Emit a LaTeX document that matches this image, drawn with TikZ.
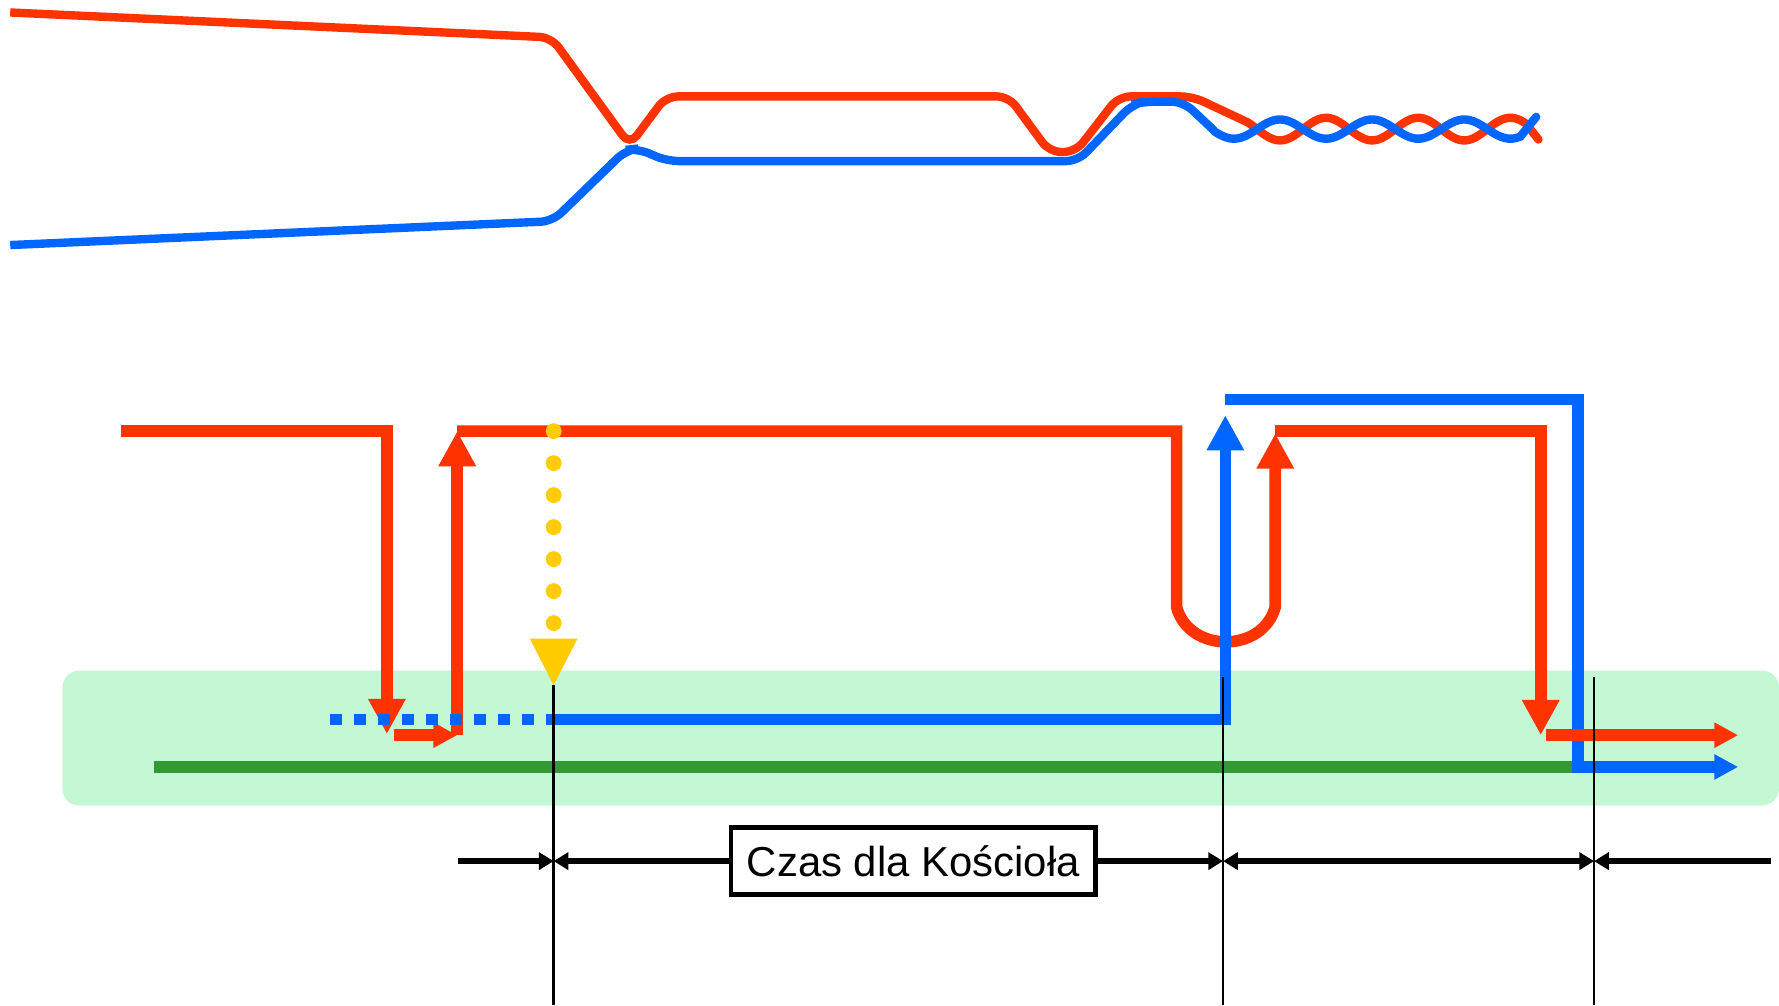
\documentclass[tikz,border=0pt]{standalone}
\usepackage{fontspec}
\setmainfont{Liberation Sans}
\usetikzlibrary{arrows.meta}
\definecolor{pathred}{RGB}{255,51,0}
\definecolor{pathblue}{RGB}{0,102,255}
\definecolor{pathyellow}{RGB}{255,204,0}
\definecolor{pathgreen}{RGB}{51,153,51}
\definecolor{bandgreen}{RGB}{196,247,212}

\begin{document}
\begin{tikzpicture}[x=0.01cm, y=-0.01cm,
        strand/.style={line width=2.1pt, rounded corners=3pt},
        wave/.style={line width=2.1pt, line cap=round},
        route/.style={line width=2.9pt},
        bigtip/.style={-{Triangle[length=0.31cm, width=0.31cm]}},
        smalltip/.style={-{Triangle[length=0.21cm, width=0.21cm]}},
        dimline/.style={line width=1.5pt},
        >={Triangle[length=0.13cm, width=0.15cm]}]
    \useasboundingbox (0,0) rectangle (1568,886);
    \pgfmathsetmacro{\wavek}{180/40.6}
    \fill[bandgreen, rounded corners=0.15cm] (55,591) rectangle (1568,710);
    \draw[pathgreen, route] (136,676) -- (1391,676);

    \draw[pathred, strand] (9,11) -- (486,33) -- (555,128) -- (587,85) -- (889,85) -- (925,134) -- (948,134) -- (986,85) -- (1051,85) -- (1100,108);
    \draw[pathred, wave] plot[domain=1100:1345, samples=80, smooth] (\x, {113.8+10*cos((\x-1128.2)*\wavek)}) -- (1356,123);
    \draw[pathblue, strand] (9,216) -- (487,195) -- (552,132) -- (562,131) -- (588,142) -- (950,142) -- (998,92) -- (1008,89.6) -- (1043,89.6) -- (1070,115);
    \draw[pathblue, wave] plot[domain=1070:1340, samples=80, smooth] (\x, {113.8-8.5*cos((\x-1128.2)*\wavek)}) -- (1354,103);

    \draw[pathblue, route, smalltip] (1080,352) -| (1391,676) -- (1532,676);
    \draw[pathred, route, bigtip] (107,380) -| (341,647);
    \draw[pathred, route, smalltip] (347,648) -- (403,648);
    \draw[pathred, route, bigtip] (403,648) -- (403,380);
    \draw[pathred, route, bigtip] (403,380) -- (1037,380) -- (1037,535) .. controls (1048,576) and (1113,576) .. (1124,535) -- (1124,382);
    \draw[pathred, route, bigtip] (1124,380) -| (1358,648);
    \draw[pathred, route, smalltip] (1363,648) -- (1532,648);
    \draw[pathblue, route, dash pattern=on 2.92pt off 3.1pt] (291,634) -- (481,634);
    \draw[pathblue, route, bigtip] (481,634) -- (1080,634) -- (1080,366);

    \foreach \k in {0,...,6}{
            \fill[pathyellow] (488, {380+28.2*\k}) circle[radius=0.07cm];
        }
    \fill[pathyellow] (467,563) -- (509,563) -- (488,604) -- cycle;

    \draw[line width=0.7pt] (488,604) -- (488,886);
    \draw[line width=0.7pt] (1078,597) -- (1078,886);
    \draw[line width=0.7pt] (1405,597) -- (1405,886);

    \node[draw, line width=1.1pt, minimum width=3.21cm, minimum height=0.59cm, inner sep=0pt, font=\fontsize{10.5}{12}\selectfont] (czas) at (805,759) {Czas dla Kościoła};
    \coordinate (d0) at (404,759);
    \coordinate (d1) at (488,759);
    \coordinate (d2) at (1078,759);
    \coordinate (d3) at (1405,759);
    \coordinate (d4) at (1561,759);
    \draw[dimline, ->] (d0) -- (d1);
    \draw[dimline, <-] (d1) -- (czas.west);
    \draw[dimline, ->] (czas.east) -- (d2);
    \draw[dimline, <->] (d2) -- (d3);
    \draw[dimline, <-] (d3) -- (d4);
\end{tikzpicture}
\end{document}
